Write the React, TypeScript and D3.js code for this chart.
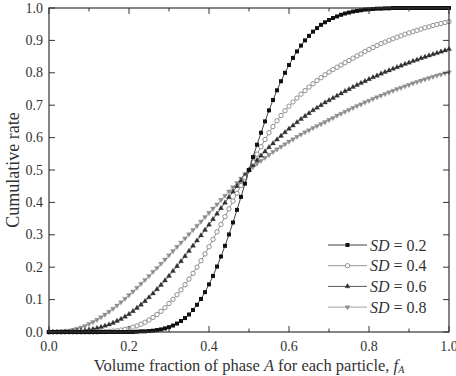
import React from 'react';
import * as d3 from 'd3';

// volume fraction of phase A, 0.00 .. 1.00 in 0.01 steps
const fA = d3.range(0, 101).map((i) => i / 100);

const sd02 = [
  0, 0, 0, 0, 0, 0, 0, 0, 0, 0,
  0, 0, 0, 0, 0, 0, 0, 0, 0, 0,
  0, 0, 0.001, 0.002, 0.002, 0.003, 0.004, 0.006, 0.008, 0.011,
  0.015, 0.020, 0.026, 0.034, 0.043, 0.054, 0.068, 0.084, 0.102, 0.123,
  0.147, 0.173, 0.202, 0.233, 0.266, 0.301, 0.338, 0.377, 0.417, 0.458,
  0.500, 0.540, 0.578, 0.615, 0.650, 0.684, 0.716, 0.746, 0.774, 0.800,
  0.824, 0.846, 0.866, 0.884, 0.900, 0.914, 0.927, 0.938, 0.948, 0.956,
  0.963, 0.969, 0.974, 0.979, 0.983, 0.986, 0.989, 0.991, 0.993, 0.995,
  0.996, 0.997, 0.998, 0.998, 0.999, 0.999, 1, 1, 1, 1,
  1, 1, 1, 1, 1, 1, 1, 1, 1, 1,
  1,
];

const sd04 = [
  0, 0, 0, 0, 0, 0, 0, 0, 0, 0,
  0, 0, 0, 0.001, 0.001, 0.002, 0.003, 0.004, 0.006, 0.008,
  0.011, 0.015, 0.019, 0.024, 0.030, 0.037, 0.045, 0.054, 0.064, 0.075,
  0.088, 0.101, 0.115, 0.130, 0.146, 0.163, 0.181, 0.200, 0.220, 0.241,
  0.263, 0.286, 0.309, 0.332, 0.356, 0.380, 0.404, 0.428, 0.452, 0.476,
  0.500, 0.525, 0.549, 0.572, 0.594, 0.615, 0.634, 0.652, 0.668, 0.683,
  0.697, 0.710, 0.722, 0.734, 0.745, 0.756, 0.766, 0.776, 0.785, 0.794,
  0.802, 0.810, 0.817, 0.824, 0.831, 0.838, 0.845, 0.852, 0.858, 0.866,
  0.872, 0.878, 0.884, 0.890, 0.895, 0.900, 0.905, 0.910, 0.914, 0.919,
  0.923, 0.927, 0.931, 0.935, 0.939, 0.942, 0.946, 0.949, 0.952, 0.955,
  0.958,
];

const sd06 = [
  0, 0, 0, 0, 0.001, 0.001, 0.002, 0.003, 0.004, 0.005,
  0.007, 0.009, 0.012, 0.015, 0.019, 0.023, 0.028, 0.034, 0.040, 0.047,
  0.055, 0.064, 0.074, 0.084, 0.095, 0.107, 0.119, 0.132, 0.145, 0.159,
  0.173, 0.188, 0.203, 0.218, 0.234, 0.250, 0.266, 0.282, 0.298, 0.315,
  0.331, 0.348, 0.365, 0.382, 0.399, 0.416, 0.433, 0.450, 0.467, 0.484,
  0.500, 0.515, 0.530, 0.544, 0.557, 0.570, 0.582, 0.594, 0.605, 0.616,
  0.627, 0.637, 0.647, 0.657, 0.666, 0.675, 0.684, 0.692, 0.700, 0.708,
  0.715, 0.722, 0.729, 0.736, 0.743, 0.749, 0.756, 0.762, 0.768, 0.774,
  0.780, 0.786, 0.791, 0.797, 0.802, 0.807, 0.812, 0.817, 0.822, 0.827,
  0.831, 0.836, 0.840, 0.845, 0.849, 0.853, 0.857, 0.861, 0.865, 0.869,
  0.873,
];

const sd08 = [
  0, 0, 0.001, 0.001, 0.003, 0.004, 0.007, 0.010, 0.014, 0.019,
  0.025, 0.031, 0.038, 0.046, 0.054, 0.063, 0.072, 0.082, 0.092, 0.103,
  0.114, 0.125, 0.137, 0.149, 0.161, 0.173, 0.186, 0.198, 0.211, 0.224,
  0.237, 0.250, 0.263, 0.276, 0.289, 0.302, 0.315, 0.328, 0.341, 0.355,
  0.368, 0.381, 0.394, 0.408, 0.421, 0.434, 0.447, 0.460, 0.474, 0.487,
  0.500, 0.510, 0.520, 0.529, 0.538, 0.547, 0.556, 0.564, 0.572, 0.580,
  0.588, 0.595, 0.603, 0.610, 0.617, 0.623, 0.630, 0.636, 0.642, 0.648,
  0.655, 0.661, 0.668, 0.674, 0.680, 0.686, 0.692, 0.698, 0.703, 0.709,
  0.714, 0.720, 0.725, 0.730, 0.735, 0.740, 0.745, 0.750, 0.754, 0.759,
  0.763, 0.768, 0.772, 0.776, 0.780, 0.784, 0.788, 0.792, 0.795, 0.799,
  0.802,
];

const sdLabels = ['0.2', '0.4', '0.6', '0.8'];
const xTicks = [0, 0.2, 0.4, 0.6, 0.8, 1.0];
const yTicks = [0, 0.1, 0.2, 0.3, 0.4, 0.5, 0.6, 0.7, 0.8, 0.9, 1.0];

const FONT = '"Liberation Serif", "DejaVu Serif", serif';

const width = 456;
const height = 376;
const margin = { top: 8, right: 7, bottom: 44, left: 49 };

const x = d3.scaleLinear().domain([0, 1]).range([margin.left, width - margin.right]);
const y = d3.scaleLinear().domain([0, 1]).range([height - margin.bottom, margin.top]);

type Style = { kind: string; color: string; fill: string };
const styles: Style[] = [
  { kind: 'square', color: '#111', fill: '#111' },
  { kind: 'circle', color: '#777', fill: '#fff' },
  { kind: 'triUp', color: '#2e2e2e', fill: '#2e2e2e' },
  { kind: 'triDown', color: '#8c8c8c', fill: '#8c8c8c' },
];

const series = [sd02, sd04, sd06, sd08];

const triUp = d3.symbol().type(d3.symbolTriangle).size(11)()!;

function Marker({ s, cx, cy }: { s: Style; cx: number; cy: number }) {
  if (s.kind === 'square') {
    return <rect x={cx - 2} y={cy - 2} width={4} height={4} fill={s.fill} />;
  }
  if (s.kind === 'circle') {
    return <circle cx={cx} cy={cy} r={2.2} fill={s.fill} stroke={s.color} strokeWidth={0.8} />;
  }
  const rot = s.kind === 'triDown' ? 180 : 0;
  return <path d={triUp} transform={`translate(${cx},${cy}) rotate(${rot})`} fill={s.fill} stroke={s.color} strokeWidth={0.3} />;
}

export default function App() {
  const line = d3.line<number>().x((_, i) => x(fA[i])).y((d) => y(d));
  const minorX = d3.range(0, 11).map((i) => i / 10);
  const x0 = x(0), x1 = x(1), y0 = y(0), y1 = y(1);

  // draw order: SD=0.8 at the back, SD=0.2 on top
  const order = [3, 2, 1, 0];

  return (
    <svg width={width} height={height} style={{ position: 'absolute', left: 0, top: 0, background: '#fff' }}>
      <g>
        {order.map((k) => (
          <g key={k}>
            <path d={line(series[k]) ?? ''} fill="none" stroke={styles[k].color} strokeWidth={0.8} />
            {series[k].map((v, i) => (
              <Marker key={i} s={styles[k]} cx={x(fA[i])} cy={y(v)} />
            ))}
          </g>
        ))}
      </g>

      {/* frame */}
      <rect x={x0} y={y1} width={x1 - x0} height={y0 - y1} fill="none" stroke="#333" strokeWidth={1.2} />

      {/* x ticks, bottom and top */}
      {minorX.map((t) => {
        const major = Math.round(t * 10) % 2 === 0;
        const len = major ? 6 : 3.5;
        return (
          <g key={t} stroke="#333" strokeWidth={1}>
            <line x1={x(t)} x2={x(t)} y1={y0} y2={y0 - len} />
            <line x1={x(t)} x2={x(t)} y1={y1} y2={y1 + len} />
          </g>
        );
      })}
      {xTicks.map((t) => (
        <text key={t} x={x(t)} y={y0 + 19} textAnchor="middle" fontFamily={FONT} fontSize={14} fill="#333">
          {t.toFixed(1)}
        </text>
      ))}

      {/* y ticks, left and right */}
      {yTicks.map((t) => (
        <g key={t}>
          <line x1={x0} x2={x0 + 6} y1={y(t)} y2={y(t)} stroke="#333" strokeWidth={1} />
          <line x1={x1} x2={x1 - 6} y1={y(t)} y2={y(t)} stroke="#333" strokeWidth={1} />
          <text x={x0 - 6} y={y(t) + 4.5} textAnchor="end" fontFamily={FONT} fontSize={14} fill="#333">
            {t.toFixed(1)}
          </text>
        </g>
      ))}

      {/* axis titles */}
      <text
        transform={`translate(19,${(y0 + y1) / 2}) rotate(-90)`}
        textAnchor="middle"
        fontFamily={FONT}
        fontSize={18}
        fill="#333"
      >
        Cumulative rate
      </text>
      <text x={(x0 + x1) / 2} y={371} textAnchor="middle" fontFamily={FONT} fontSize={16.5} fill="#333">
        Volume fraction of phase <tspan fontStyle="italic">A</tspan> for each particle, <tspan fontStyle="italic">f</tspan>
        <tspan fontStyle="italic" fontSize={10} dy={2}>A</tspan>
      </text>

      {/* legend */}
      {sdLabels.map((lab, k) => {
        const ly = 245 + k * 20.7;
        return (
          <g key={lab}>
            <line x1={328} x2={367} y1={ly} y2={ly} stroke={styles[k].color} strokeWidth={0.8} />
            <Marker s={styles[k]} cx={347.5} cy={ly} />
            <text x={370} y={ly + 5.5} fontFamily={FONT} fontSize={16} fill="#333">
              <tspan fontStyle="italic">SD</tspan> = {lab}
            </text>
          </g>
        );
      })}
    </svg>
  );
}
